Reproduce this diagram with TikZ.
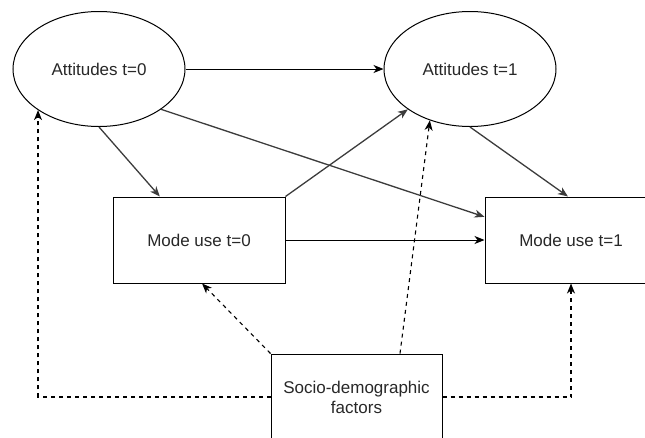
\documentclass[tikz,border=0pt]{standalone}
\usepackage{fontspec}
\setmainfont{Liberation Sans}
\usetikzlibrary{shapes.geometric,arrows.meta}
\definecolor{linegray}{RGB}{60,60,60}
\definecolor{textgray}{RGB}{40,40,40}

\begin{document}
\begin{tikzpicture}
[
    x=1pt,y=-1pt,
    mybox/.style={draw=black,line width=1pt,fill=white,inner sep=0pt,text=textgray,font=\fontsize{17}{20}\selectfont,align=center},
    attitude/.style={mybox,ellipse,minimum width=172pt,minimum height=115pt},
    mode/.style={mybox,rectangle,minimum width=172pt,minimum height=86pt},
    link/.style={line width=1pt,-{Stealth[length=10pt,width=8pt,inset=3pt]}},
    cross/.style={link,draw=linegray,line width=1.3pt},
    factor/.style={link,line width=1.1pt,dash pattern=on 4pt off 4pt}
]
\useasboundingbox (0,0) rectangle (645,437);
\clip (0,0) rectangle (645,437);

\node (att0) at (99,69) [attitude] {Attitudes t=0};
\node (att1) at (470,69) [attitude] {Attitudes t=1};
\node (mode0) at (199,240) [mode] {Mode use t=0};
\node (mode1) at (571,240) [mode] {Mode use t=1};
\node (socio) at (356.5,397) [mode,minimum width=171pt] {Socio-demographic\\factors};

% Pfeile zwischen den Zeitpunkten
\draw [link] (att0.east) -- (att1.west);
\draw [link] (mode0.east) -- (mode1.west);
\draw [cross] (att0.south) -- (mode0.132);
\draw [cross] (att0.-33) -- (mode1.165);
\draw [cross] (mode0.north east) -- (att1.213);
\draw [cross] (att1.south) -- (mode1.94);

% gestrichelt: Einfluss der Soziodemografie
\draw [factor] (socio.west) -| (att0.214);
\draw [factor] (socio.north west) -- (mode0.-86);
\draw [factor] (socio.45) -- (att1.232);
\draw [factor] (socio.east) -| (mode1.south);

\end{tikzpicture}
\end{document}
